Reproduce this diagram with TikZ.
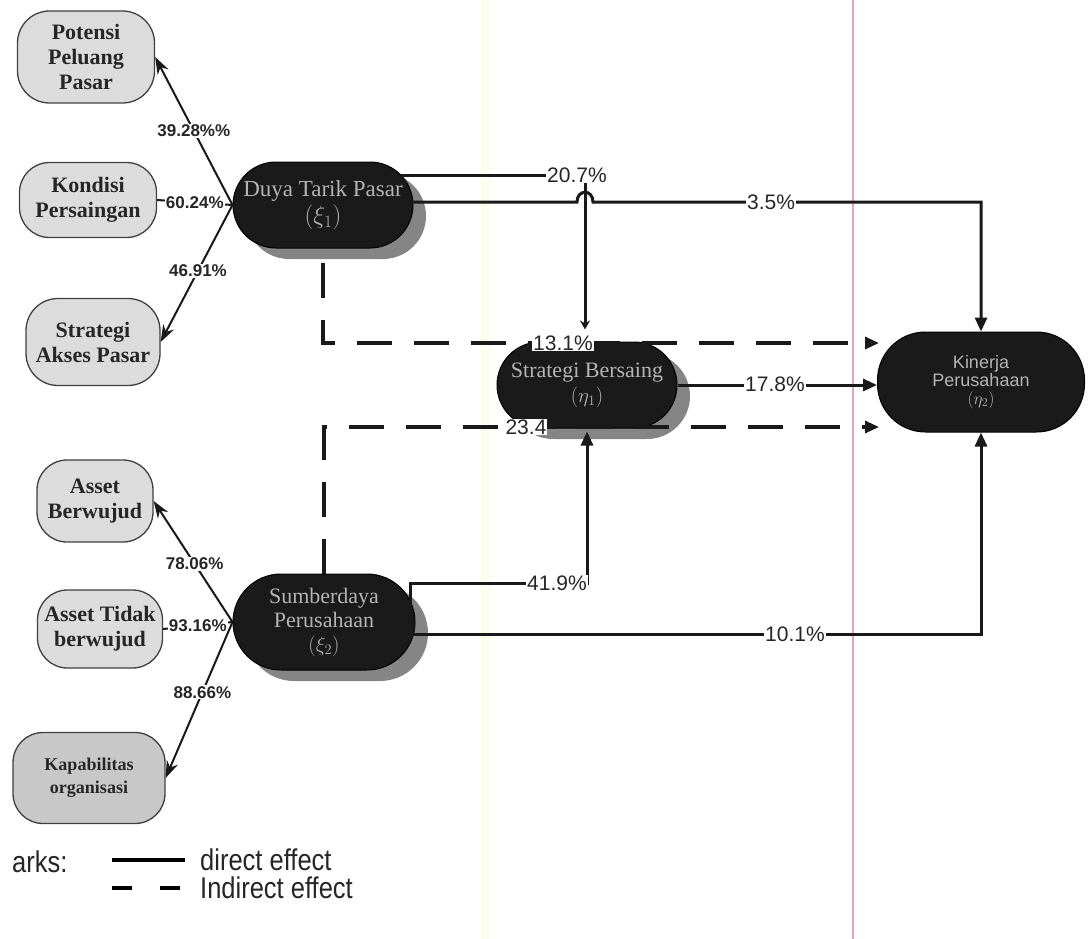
\documentclass[tikz,border=0pt]{standalone}
\usepackage{fontspec}
\setmainfont{Liberation Serif}
\setsansfont{Liberation Sans}
\newfontfamily\narrowsans[FakeStretch=0.85]{Liberation Sans}
\usetikzlibrary{arrows.meta,calc,shadows}
\definecolor{indfill}{HTML}{DCDCDC}
\definecolor{kapfill}{HTML}{C8C8C8}
\definecolor{latfill}{HTML}{1A1A1A}
\definecolor{shadowgrey}{HTML}{858585}
\definecolor{latext}{HTML}{B4B4B4}
\definecolor{pinkline}{HTML}{E8A3BC}
\definecolor{yellowband}{HTML}{FDFDEE}
\tikzset{
  ind/.style={draw=black!75, line width=1.3pt, fill=indfill, align=center,
    font=\fontsize{22}{25}\selectfont\bfseries, text=black!85, inner sep=0pt},
  lat/.style={draw=black, line width=1pt, fill=latfill, align=center, text=latext,
    font=\fontsize{23}{27}\selectfont, inner sep=0pt,
    drop shadow={shadow xshift=13pt, shadow yshift=-11pt, fill=shadowgrey, opacity=1}},
  link/.style={line width=3pt, draw=black!90},
  dlink/.style={line width=3.2pt, draw=black!90, dash pattern=on 35pt off 22pt},
  loadl/.style={line width=2pt, draw=black!90},
  tip/.style={-{Triangle[length=14pt,width=12pt]}},
  ltip/.style={-{Stealth[length=17pt,width=12pt]}},
  pct/.style={font=\fontsize{21}{21}\selectfont\sffamily, fill=white, inner sep=1pt, text=black!85},
  lpct/.style={font=\fontsize{17}{17}\selectfont\sffamily\bfseries, fill=white, inner sep=1pt, text=black!85},
}
\begin{document}
\begin{tikzpicture}[x=1pt,y=-1pt]
\useasboundingbox (0,0) rectangle (1092,939);
\fill[white] (0,0) rectangle (1092,939);
% scan page edges
\fill[yellowband] (481,0) rectangle (490,939);
\draw[pinkline, line width=1.6pt] (853,0) -- (853,939);

% indicator nodes
\node[ind, minimum width=137pt, minimum height=92pt, rounded corners=32pt] (pot) at (86,57) {Potensi\\Peluang\\Pasar};
\node[ind, minimum width=137pt, minimum height=75pt, rounded corners=30pt] (kon) at (88,200) {Kondisi\\Persaingan};
\node[ind, minimum width=134pt, minimum height=87pt, rounded corners=32pt] (akses) at (93,342) {Strategi\\Akses Pasar};
\node[ind, minimum width=116pt, minimum height=82pt, rounded corners=30pt] (ab) at (95,501) {Asset\\Berwujud};
\node[ind, minimum width=125pt, minimum height=78pt, rounded corners=30pt] (at) at (100,629) {Asset Tidak\\berwujud};
\node[ind, fill=kapfill, minimum width=152pt, minimum height=91pt, rounded corners=30pt,
  font=\fontsize{18}{23}\selectfont\bfseries] (kap) at (89,778) {Kapabilitas\\organisasi};

% latent nodes
\node[lat, minimum width=180pt, minimum height=86pt, rounded corners=43pt] (dtp) at (323,205) {Duya Tarik Pasar\\$(\xi_1)$};
\node[lat, minimum width=182pt, minimum height=96pt, rounded corners=48pt, font=\fontsize{22}{24}\selectfont] (sr) at (324,622) {Sumberdaya\\Perusahaan\\$(\xi_2)$};
\node[lat, minimum width=180pt, minimum height=86pt, rounded corners=43pt, font=\fontsize{22}{25}\selectfont] (sb) at (587,385) {Strategi Bersaing\\$(\eta_1)$};
\node[draw=black, line width=1pt, fill=latfill, text=latext, align=center, inner sep=0pt,
  font=\fontsize{18}{18}\selectfont\sffamily, minimum width=207pt, minimum height=100pt, rounded corners=48pt] (kin) at (981,382) {Kinerja\\Perusahaan\\$(\eta_2)$};

% outer loadings
\draw[loadl, ltip] (dtp.west) -- (pot.east) node[lpct, pos=0.5] {39.28\%\%};
\draw[loadl] (dtp.west) -- (kon.east) node[lpct, pos=0.5] {60.24\%};
\draw[loadl, ltip] (dtp.west) -- (akses.east) node[lpct, pos=0.48] {46.91\%};
\draw[loadl, ltip] (sr.west) -- (ab.east) node[lpct, pos=0.48] {78.06\%};
\draw[loadl] (sr.west) -- (at.east) node[lpct, pos=0.5] {93.16\%};
\draw[loadl, ltip] (sr.west) -- (kap.east) node[lpct, pos=0.45] {88.66\%};

% structural paths
\draw[link, -{Stealth[length=9pt,width=10pt]}] ($(dtp.center)+(78,-30)$) -- (585,175) -- ($(sb.north)+(-2,-12)$);
\draw[link, tip] ($(dtp.center)+(89,-3)$) -- (577,202) .. controls (577,189) and (593,189) .. (593,202) -| (kin.north);
\draw[link, tip] (sb.east) -- (sb.east -| kin.west);
\draw[link, tip] ($(sr.center)+(86,-2)$) |- (587,583) -- ($(sb.south)+(0,3)$);
\draw[link, tip] ($(sr.center)+(90,12)$) -| (kin.south);
\draw[dlink, tip] ($(dtp.south)+(0,14)$) |- ($(kin.west)+(2,-39)$);
\draw[dlink, tip] (sr.north) |- ($(kin.west)+(2,45)$);

% path labels
\node[pct] at (577,175) {20.7\%};
\node[pct] at (771,202) {3.5\%};
\node[pct] at (563,343) {13.1\%};
\node[pct] at (775,384) {17.8\%};
\node[pct] at (526,427) {23.4};
\node[pct] at (557,583) {41.9\%};
\node[pct] at (795,634) {10.1\%};

% legend
\node[anchor=west, font=\fontsize{30}{30}\selectfont\narrowsans, inner sep=0pt, text=black!85] (rem) at (12,862) {arks:};
\coordinate (l1a) at (112,860);
\coordinate (l1b) at (185,860);
\coordinate (l2a) at (112,888);
\coordinate (l2b) at (182,888);
\draw[line width=3.5pt] (l1a) -- (l1b);
\draw[line width=3.5pt, dash pattern=on 20pt off 28pt] (l2a) -- (l2b);
\node[anchor=west, font=\fontsize{30}{30}\selectfont\narrowsans, inner sep=0pt, text=black!85] (dir) at (200,860) {direct effect};
\node[anchor=west, font=\fontsize{30}{30}\selectfont\narrowsans, inner sep=0pt, text=black!85] (ind) at (200,888) {Indirect effect};
\end{tikzpicture}
\end{document}
